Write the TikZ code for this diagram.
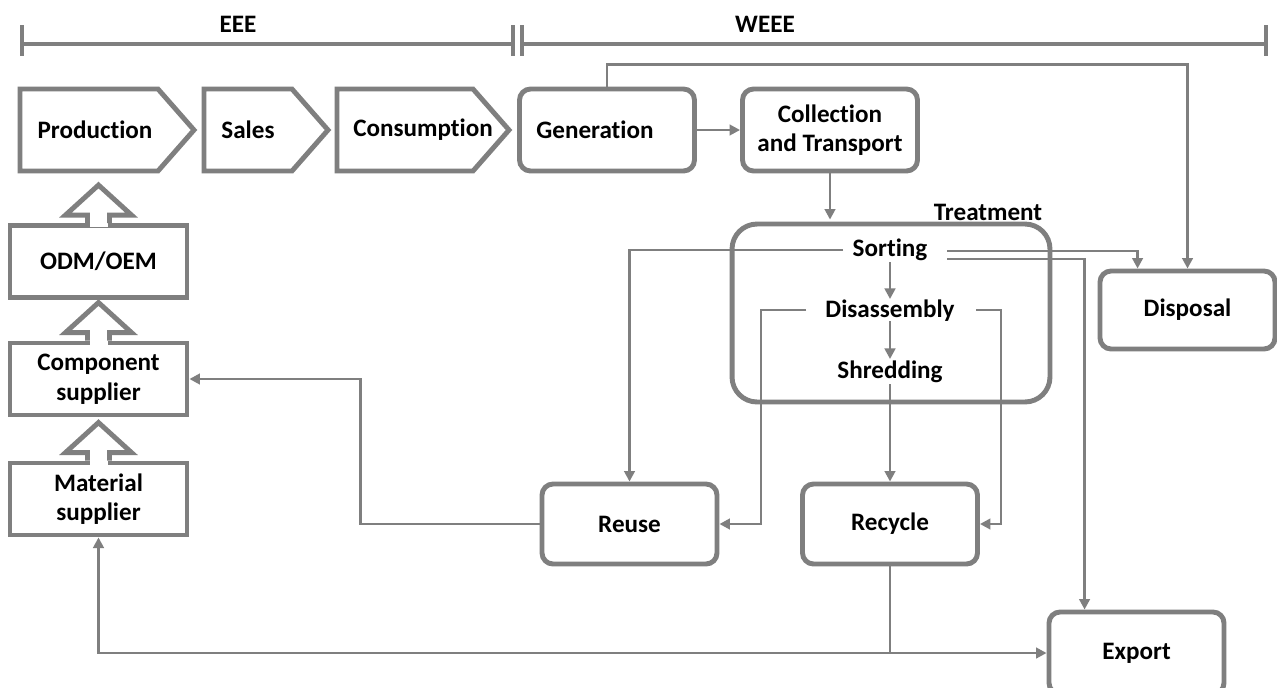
\documentclass[tikz,border=0pt]{standalone}
\usepackage{fontspec}
\setmainfont{Carlito}[Ligatures=NoCommon]
\usetikzlibrary{calc,arrows.meta}
\definecolor{ln}{HTML}{7F7F7F}
\begin{document}
\begin{tikzpicture}[x=0.02cm,y=-0.02cm,
  txt/.style={font=\fontsize{14.3}{16.8}\selectfont\bfseries, inner sep=0pt, align=center, text=black},
  rbox/.style={draw=ln, line width=2.8pt, rounded corners=0.22cm, minimum width=3.5cm, minimum height=1.64cm, fill=white, txt},
  sbox/.style={draw=ln, line width=2.8pt, minimum width=3.54cm, minimum height=1.44cm, fill=white, txt},
  shape line/.style={draw=ln, line width=2.8pt, line join=miter},
  conn/.style={draw=ln, line width=1.6pt},
  arr/.style={conn, -{Triangle[length=6pt,width=6pt]}},
  brk/.style={draw=ln, line width=2pt},
  tick/.style={draw=ln, line width=2.3pt}]
\useasboundingbox (0,0) rectangle (1277,687);
\fill[white] (0,0) rectangle (1277,687);

% brackets
\draw[brk] (22,44) -- (513,44);
\draw[brk] (522,44) -- (1266,44);
\foreach \xx in {22,513,522,1266} \draw[tick] (\xx,25) -- (\xx,56);
\node[txt] (eee) at (238,24) {EEE};
\node[txt] (weee) at (765,24) {WEEE};

% EEE chevrons
\draw[shape line] (20,89) -- (158,89) -- (194,130) -- (158,171) -- (20,171) -- cycle;
\draw[shape line] (204,89) -- (292,89) -- (328,130) -- (292,171) -- (204,171) -- cycle;
\draw[shape line] (337,89) -- (473,89) -- (509,130) -- (473,171) -- (337,171) -- cycle;
\node[txt] (prod) at (95,130) {Production};
\node[txt] (sales) at (248,130) {Sales};
\node[txt] (cons) at (423,130) {Consumption};

% left column
\node[sbox] (odm) at (98.5,261.5) {ODM/OEM};
\node[sbox] (comp) at (98.5,379) {Component\\supplier};
\node[sbox] (mat) at (98.5,499) {Material\\supplier};
\foreach \b in {odm,comp,mat} {
  \fill[white] ($(\b.north)+(-9,-4)$) rectangle ($(\b.north)+(9,4)$);
  \draw[shape line] ($(\b.north)+(-11,0)$) -- ++(0,-8) -- ++(-22,0) -- ($(\b.north)+(0,-38)$) -- ($(\b.north)+(33,-8)$) -- ++(-22,0) -- ++(0,8);
}

% WEEE boxes
\node[rbox] (gen) at (607,130) {};
\node[txt] (gentext) at (595,130) {Generation};
\node[rbox] (coll) at (830,130) {Collection\\and Transport};
\node[draw=ln, line width=2.8pt, rounded corners=0.5cm, minimum width=6.36cm, minimum height=3.56cm] (treat) at (891,313) {};
\node[txt] (treatlbl) at (988,212) {Treatment};
\node[txt] (sort) at (890,250) {Sorting};
\node[txt] (dis) at (890,311) {Disassembly};
\node[txt] (shr) at (890,372) {Shredding};
\node[rbox, minimum height=1.56cm] (disp) at (1187.5,310) {Disposal};
\node[rbox, minimum height=1.6cm] (reuse) at (629.5,524) {Reuse};
\node[rbox, minimum height=1.6cm] (recyc) at (890,524) {Recycle};
\node[rbox] (export) at (1136.5,653) {Export};

% connectors
\draw[arr] (gen.east) -- (coll.west);
\draw[arr] (gen.north) |- ($(disp.north)+(0,-204)$) -- (disp.north);
\draw[arr] (coll.south) -- ($(coll.south |- treat.north)+(0,-2)$);
\draw[arr] ($(sort.center)+(0,12)$) -- ($(dis.center)+(0,-12)$);
\draw[arr] ($(dis.center)+(0,10)$) -- ($(shr.center)+(0,-13)$);
\draw[arr] ($(shr.center)+(0,12)$) -- (recyc.north);
\coordinate (sortL) at ($(sort.center)+(-47,0)$);
\coordinate (sortR1) at ($(sort.center)+(57,1)$);
\coordinate (sortR2) at ($(sort.center)+(57,9)$);
\coordinate (dispIn) at ($(disp.north west)+(40,0)$);
\coordinate (expIn) at ($(export.north west)+(38,0)$);
\draw[arr] (sortL) -| (reuse.north);
\draw[arr] (sortR1) -| (dispIn);
\draw[arr] (sortR2) -| (expIn);
\coordinate (disL) at ($(dis.center)+(-84,-1)$);
\coordinate (disR) at ($(dis.center)+(86,-1)$);
\draw[arr] (disL) -- ++(-45,0) |- (reuse.east);
\draw[arr] (disR) -- ++(25,0) |- (recyc.east);
\draw[arr] (reuse.west) -- ++(-179,0) |- (comp.east);
\coordinate (junc) at (recyc.south |- export.west);
\draw[conn] (recyc.south) -- (junc);
\draw[arr] (junc) -- (export.west);
\draw[arr] (junc) -| (mat.south);
\end{tikzpicture}
\end{document}
